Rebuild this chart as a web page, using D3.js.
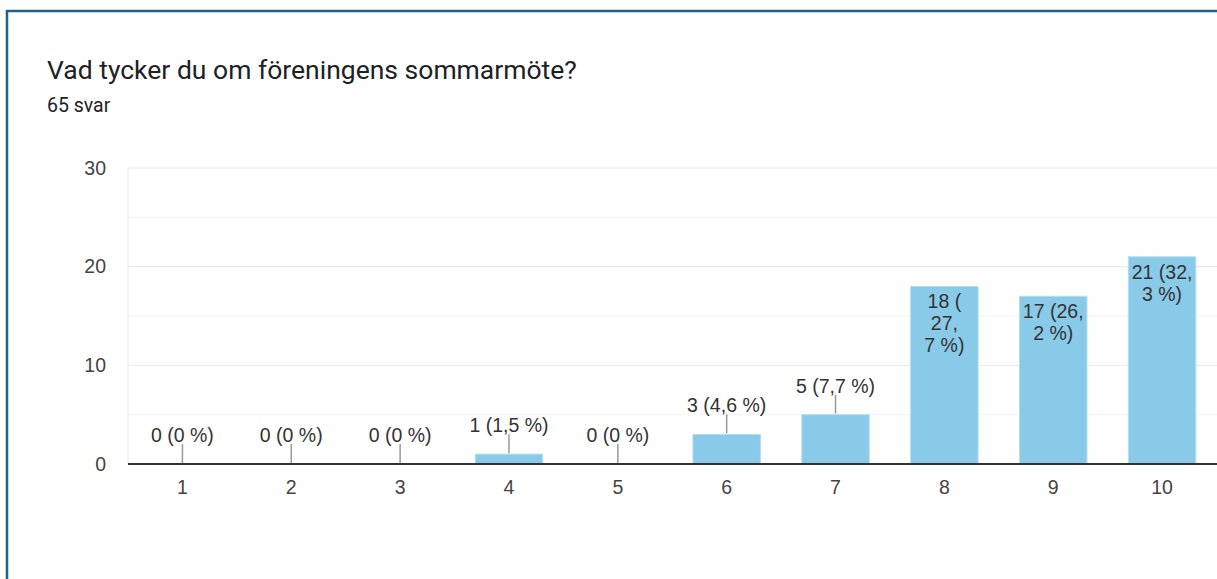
<html>
  <head>
    <meta charset="utf-8">
    <title>Vad tycker du om föreningens sommarmöte?</title>
    <style>
      body { margin: 0; background: #fff; }
    </style>
  </head>
  <body>
    <script src="https://d3js.org/d3.v7.min.js"></script>
    <script>
      // Data
      var categories = ['1', '2', '3', '4', '5', '6', '7', '8', '9', '10'];
      var counts = [0, 0, 0, 1, 0, 3, 5, 18, 17, 21];
      var percents = ['0', '0', '0', '1,5', '0', '4,6', '7,7', '27,7', '26,2', '32,3'];
      // Wrapped labels for bars tall enough to hold their label inside
      var insideLabels = {
        '8': ['18 (', '27,', '7 %)'],
        '9': ['17 (26,', '2 %)'],
        '10': ['21 (32,', '3 %)']
      };
      var yTicks = [0, 10, 20, 30];
      var yMinorTicks = [5, 15, 25];

      var WIDTH = 1217, HEIGHT = 579;
      var FONT = 'Liberation Sans, Arial, sans-serif';
      var FONT_SIZE = '19.5px';

      var svg = d3.select('body').append('svg')
        .attr('width', WIDTH)
        .attr('height', HEIGHT);

      // Card border (top and left edge visible)
      svg.append('line')
        .attr('x1', 6).attr('x2', WIDTH).attr('y1', 11).attr('y2', 11)
        .attr('stroke', '#1f6385').attr('stroke-width', 2.5);
      svg.append('line')
        .attr('x1', 7).attr('x2', 7).attr('y1', 10).attr('y2', HEIGHT)
        .attr('stroke', '#1f6385').attr('stroke-width', 2.5);

      // Title
      svg.append('text')
        .text('Vad tycker du om föreningens sommarmöte?')
        .attr('x', 47).attr('y', 79)
        .attr('font-family', 'Roboto')
        .attr('font-size', '26.5px')
        .attr('fill', '#202124');
      svg.append('text')
        .text('65 svar')
        .attr('x', 47).attr('y', 112)
        .attr('font-family', 'Roboto')
        .attr('font-size', '19.5px')
        .attr('fill', '#202124');

      var plot = { left: 128, right: 1217, top: 168, bottom: 464 };

      var x = d3.scaleBand()
        .domain(categories)
        .range([plot.left, plot.left + 1088.5])
        .paddingInner(0.38)
        .paddingOuter(0.19);

      var y = d3.scaleLinear()
        .domain([0, 30])
        .range([plot.bottom, plot.top]);

      var g = svg.append('g');

      // Minor gridlines
      g.selectAll('.minor')
        .data(yMinorTicks)
        .enter().append('line')
        .attr('x1', plot.left).attr('x2', plot.right)
        .attr('y1', function(d) { return y(d); })
        .attr('y2', function(d) { return y(d); })
        .attr('stroke', '#f3f3f3');

      // Major gridlines
      g.selectAll('.major')
        .data(yTicks)
        .enter().append('line')
        .attr('x1', plot.left).attr('x2', plot.right)
        .attr('y1', function(d) { return y(d); })
        .attr('y2', function(d) { return y(d); })
        .attr('stroke', '#e8e8e8');

      // Left edge of the plot area
      g.append('line')
        .attr('x1', plot.left).attr('x2', plot.left)
        .attr('y1', plot.top).attr('y2', plot.bottom)
        .attr('stroke', '#ececec');

      // Y axis labels
      var yAxis = d3.axisLeft(y).tickValues(yTicks).tickSize(0).tickPadding(22);
      var yg = svg.append('g')
        .attr('transform', 'translate(' + plot.left + ',0)')
        .call(yAxis);
      yg.select('.domain').remove();
      yg.selectAll('text')
        .attr('font-family', FONT)
        .attr('font-size', FONT_SIZE)
        .attr('fill', '#444');

      // X axis labels
      var xAxis = d3.axisBottom(x).tickSize(0).tickPadding(16);
      var xg = svg.append('g')
        .attr('transform', 'translate(0,' + plot.bottom + ')')
        .call(xAxis);
      xg.select('.domain').remove();
      xg.selectAll('text')
        .attr('font-family', FONT)
        .attr('font-size', FONT_SIZE)
        .attr('fill', '#444');

      var rows = categories.map(function(c, i) {
        return { cat: c, value: counts[i], pct: percents[i] };
      });

      // Bars
      g.selectAll('.bar')
        .data(rows)
        .enter().append('rect')
        .attr('x', function(d) { return x(d.cat); })
        .attr('width', x.bandwidth())
        .attr('y', function(d) { return y(d.value); })
        .attr('height', function(d) { return y(0) - y(d.value); })
        .attr('fill', '#89cae8')
        .attr('stroke', '#b5def1')
        .attr('stroke-width', 1);

      // Baseline
      g.append('line')
        .attr('x1', plot.left).attr('x2', plot.right)
        .attr('y1', y(0)).attr('y2', y(0))
        .attr('stroke', '#333').attr('stroke-width', 2);

      // Outside labels with leader lines
      var outside = rows.filter(function(d) { return !insideLabels[d.cat]; });
      var LEADER = 20;
      g.selectAll('.leader')
        .data(outside)
        .enter().append('line')
        .attr('x1', function(d) { return x(d.cat) + x.bandwidth() / 2; })
        .attr('x2', function(d) { return x(d.cat) + x.bandwidth() / 2; })
        .attr('y1', function(d) { return y(d.value) - 1; })
        .attr('y2', function(d) { return y(d.value) - LEADER; })
        .attr('stroke', '#999').attr('stroke-width', 1.5);

      g.selectAll('.outLabel')
        .data(outside)
        .enter().append('text')
        .text(function(d) { return d.value + ' (' + d.pct + ' %)'; })
        .attr('x', function(d) { return x(d.cat) + x.bandwidth() / 2; })
        .attr('y', function(d) { return y(d.value) - LEADER - 2; })
        .attr('text-anchor', 'middle')
        .attr('font-family', FONT)
        .attr('font-size', FONT_SIZE)
        .attr('fill', '#333');

      // Inside labels (wrapped)
      var inside = rows.filter(function(d) { return insideLabels[d.cat]; });
      var inLabel = g.selectAll('.inLabel')
        .data(inside)
        .enter().append('text')
        .attr('text-anchor', 'middle')
        .attr('font-family', FONT)
        .attr('font-size', FONT_SIZE)
        .attr('fill', '#333');
      inLabel.selectAll('tspan')
        .data(function(d) {
          return insideLabels[d.cat].map(function(t, i) { return { d: d, t: t, i: i }; });
        })
        .enter().append('tspan')
        .text(function(o) { return o.t; })
        .attr('x', function(o) { return x(o.d.cat) + x.bandwidth() / 2; })
        .attr('y', function(o) { return y(o.d.value) + 22 + o.i * 22; });
    </script>
  </body>
</html>
